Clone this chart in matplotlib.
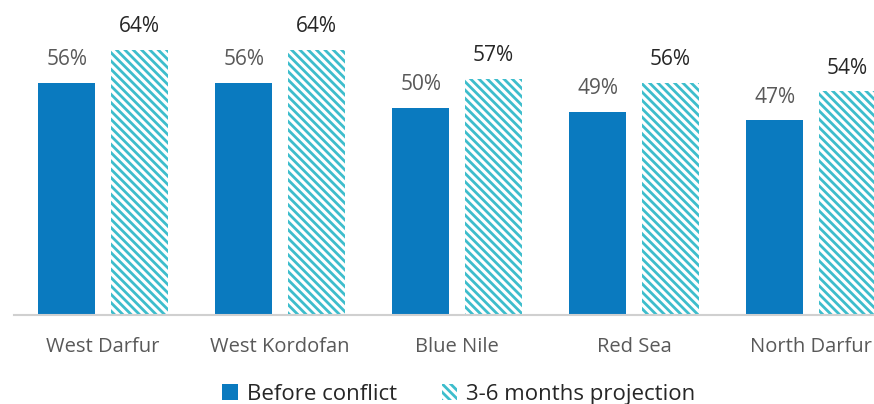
import numpy as np
import matplotlib.pyplot as plt
from matplotlib.patches import Patch

plt.rcParams['font.family'] = ['Open Sans', 'DejaVu Sans']
plt.rcParams['hatch.linewidth'] = 2.0

regions = ['West Darfur', 'West Kordofan', 'Blue Nile', 'Red Sea', 'North Darfur']
before = [56, 56, 50, 49, 47]
projection = [64, 64, 57, 56, 54]

blue = '#0a7abf'
teal = '#3dbdcc'

fig = plt.figure(figsize=(8.74, 4.04), dpi=100)
ax = fig.add_axes([14/874, 89/404, 860/874, 315/404])

x = np.arange(len(regions))
w = 0.322
off = 0.205

ax.bar(x - off, before, w, color=blue, linewidth=0)
ax.bar(x + off, projection, w, facecolor='white', edgecolor=teal,
       hatch='\\\\\\\\', linewidth=0)

for xi, v in zip(x, before):
    ax.text(xi - off, v + 3, f'{v}%', ha='center', va='bottom',
            fontsize=15, color='#595959')
for xi, v in zip(x, projection):
    ax.text(xi + off, v + 3, f'{v}%', ha='center', va='bottom',
            fontsize=15, color='#262626')

ax.set_xlim(-0.503, 4.356)
ax.set_ylim(0, 76)
ax.set_yticks([])
ax.set_xticks(x)
ax.set_xticklabels(regions, fontsize=14.5, color='#595959')
ax.tick_params(axis='x', length=0, pad=16)
for s in ['top', 'right', 'left']:
    ax.spines[s].set_visible(False)
ax.spines['bottom'].set_color('#d0d0d0')
ax.spines['bottom'].set_linewidth(1.5)

handles = [Patch(facecolor=blue, linewidth=0),
           Patch(facecolor='white', edgecolor=teal, hatch='\\\\\\\\', linewidth=0)]
fig.legend(handles, ['Before conflict', '3-6 months projection'],
           loc='center', bbox_to_anchor=(0.525, 0.024), ncol=2, frameon=False,
           fontsize=16, handlelength=0.7, handleheight=0.7, handletextpad=0.4,
           columnspacing=2.0, labelcolor='#262626')

fig.savefig('out.png', dpi=100)
